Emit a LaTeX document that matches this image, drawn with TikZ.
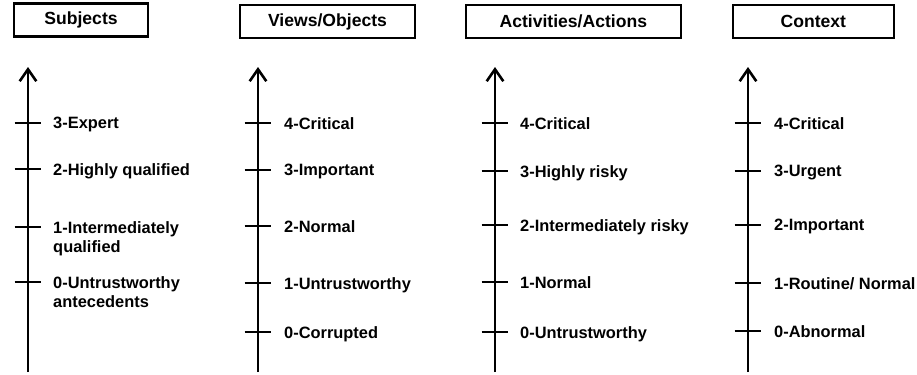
\documentclass[tikz,border=0pt]{standalone}
\usepackage{fontspec}
\setmainfont{Liberation Sans}
\usepackage{tikz}
\usetikzlibrary{arrows.meta, positioning}

\tikzset{
    head/.style={draw, line width=2pt, minimum width=#1, minimum height=1cm, inner sep=0pt, font=\fontsize{15}{17}\selectfont\bfseries},
    axis/.style={line width=2.2pt, -{Straight Barb[length=0.36cm, width=0.5cm, line width=2.2pt]}},
    tick/.style={line width=2.2pt},
    lbl/.style={anchor=north west, inner sep=0pt, align=left, font=\fontsize{14}{16.4}\selectfont\bfseries}
}

\begin{document}
\begin{tikzpicture}
    \useasboundingbox (0,0) rectangle (27.51,-11.22);

    % headings
    \node[head=4.02cm] (subj) at (2.43,-0.6) {Subjects};
    \node[head=5.25cm] (view) at (9.825,-0.645) {Views/Objects};
    \node[head=6.45cm] (act) at (17.2,-0.645) {Activities/Actions};
    \node[head=4.83cm] (ctx) at (24.4,-0.645) {Context};

    % Subjects
    \coordinate (sbot) at (0.84,-11.16);
    \coordinate (stop) at (0.84,-2.01);
    \draw[axis] (sbot) -- (stop);
    \coordinate (s3) at (0.84,-3.69);
    \coordinate (s2) at (0.84,-5.07);
    \coordinate (s1) at (0.84,-6.81);
    \coordinate (s0) at (0.84,-8.46);
    \draw[tick] ([xshift=-0.4cm]s3) -- ([xshift=0.4cm]s3);
    \draw[tick] ([xshift=-0.4cm]s2) -- ([xshift=0.4cm]s2);
    \draw[tick] ([xshift=-0.4cm]s1) -- ([xshift=0.4cm]s1);
    \draw[tick] ([xshift=-0.4cm]s0) -- ([xshift=0.4cm]s0);
    \node[lbl] (s3l) at ([xshift=0.75cm, yshift=0.18cm]s3) {3-Expert};
    \node[lbl] (s2l) at ([xshift=0.75cm, yshift=0.18cm]s2) {2-Highly qualified};
    \node[lbl] (s1l) at ([xshift=0.75cm, yshift=0.18cm]s1) {1-Intermediately\\qualified};
    \node[lbl] (s0l) at ([xshift=0.75cm, yshift=0.18cm]s0) {0-Untrustworthy\\antecedents};

    % Views/Objects
    \coordinate (vbot) at (7.74,-11.16);
    \coordinate (vtop) at (7.74,-2.01);
    \draw[axis] (vbot) -- (vtop);
    \coordinate (v4) at (7.74,-3.69);
    \coordinate (v3) at (7.74,-5.10);
    \coordinate (v2) at (7.74,-6.78);
    \coordinate (v1) at (7.74,-8.49);
    \coordinate (v0) at (7.74,-9.96);
    \draw[tick] ([xshift=-0.4cm]v4) -- ([xshift=0.4cm]v4);
    \draw[tick] ([xshift=-0.4cm]v3) -- ([xshift=0.4cm]v3);
    \draw[tick] ([xshift=-0.4cm]v2) -- ([xshift=0.4cm]v2);
    \draw[tick] ([xshift=-0.4cm]v1) -- ([xshift=0.4cm]v1);
    \draw[tick] ([xshift=-0.4cm]v0) -- ([xshift=0.4cm]v0);
    \node[lbl] (v4l) at ([xshift=0.78cm, yshift=0.18cm]v4) {4-Critical};
    \node[lbl] (v3l) at ([xshift=0.78cm, yshift=0.18cm]v3) {3-Important};
    \node[lbl] (v2l) at ([xshift=0.78cm, yshift=0.18cm]v2) {2-Normal};
    \node[lbl] (v1l) at ([xshift=0.78cm, yshift=0.18cm]v1) {1-Untrustworthy};
    \node[lbl] (v0l) at ([xshift=0.78cm, yshift=0.18cm]v0) {0-Corrupted};

    % Activities/Actions
    \coordinate (abot) at (14.85,-11.16);
    \coordinate (atop) at (14.85,-2.01);
    \draw[axis] (abot) -- (atop);
    \coordinate (a4) at (14.85,-3.69);
    \coordinate (a3) at (14.85,-5.13);
    \coordinate (a2) at (14.85,-6.75);
    \coordinate (a1) at (14.85,-8.46);
    \coordinate (a0) at (14.85,-9.96);
    \draw[tick] ([xshift=-0.4cm]a4) -- ([xshift=0.4cm]a4);
    \draw[tick] ([xshift=-0.4cm]a3) -- ([xshift=0.4cm]a3);
    \draw[tick] ([xshift=-0.4cm]a2) -- ([xshift=0.4cm]a2);
    \draw[tick] ([xshift=-0.4cm]a1) -- ([xshift=0.4cm]a1);
    \draw[tick] ([xshift=-0.4cm]a0) -- ([xshift=0.4cm]a0);
    \node[lbl] (a4l) at ([xshift=0.75cm, yshift=0.18cm]a4) {4-Critical};
    \node[lbl] (a3l) at ([xshift=0.75cm, yshift=0.18cm]a3) {3-Highly risky};
    \node[lbl] (a2l) at ([xshift=0.75cm, yshift=0.18cm]a2) {2-Intermediately risky};
    \node[lbl] (a1l) at ([xshift=0.75cm, yshift=0.18cm]a1) {1-Normal};
    \node[lbl] (a0l) at ([xshift=0.75cm, yshift=0.18cm]a0) {0-Untrustworthy};

    % Context
    \coordinate (cbot) at (22.44,-11.16);
    \coordinate (ctop) at (22.44,-2.01);
    \draw[axis] (cbot) -- (ctop);
    \coordinate (c4) at (22.44,-3.69);
    \coordinate (c3) at (22.44,-5.13);
    \coordinate (c2) at (22.44,-6.75);
    \coordinate (c1) at (22.44,-8.49);
    \coordinate (c0) at (22.44,-9.93);
    \draw[tick] ([xshift=-0.4cm]c4) -- ([xshift=0.4cm]c4);
    \draw[tick] ([xshift=-0.4cm]c3) -- ([xshift=0.4cm]c3);
    \draw[tick] ([xshift=-0.4cm]c2) -- ([xshift=0.4cm]c2);
    \draw[tick] ([xshift=-0.4cm]c1) -- ([xshift=0.4cm]c1);
    \draw[tick] ([xshift=-0.4cm]c0) -- ([xshift=0.4cm]c0);
    \node[lbl] (c4l) at ([xshift=0.78cm, yshift=0.18cm]c4) {4-Critical};
    \node[lbl] (c3l) at ([xshift=0.78cm, yshift=0.18cm]c3) {3-Urgent};
    \node[lbl] (c2l) at ([xshift=0.78cm, yshift=0.18cm]c2) {2-Important};
    \node[lbl] (c1l) at ([xshift=0.78cm, yshift=0.18cm]c1) {1-Routine/ Normal};
    \node[lbl] (c0l) at ([xshift=0.78cm, yshift=0.18cm]c0) {0-Abnormal};
\end{tikzpicture}
\end{document}
